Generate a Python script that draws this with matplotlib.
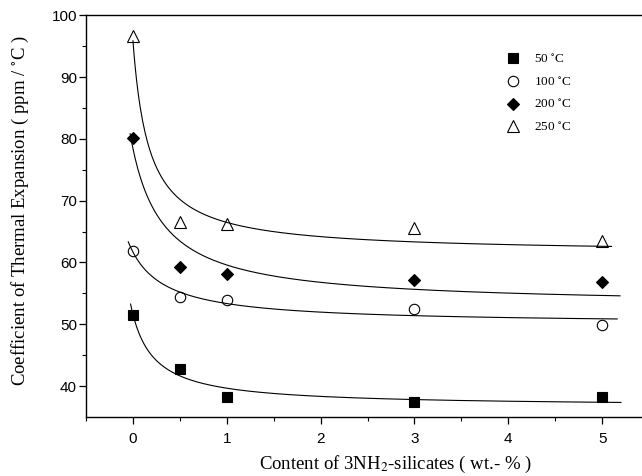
import matplotlib
matplotlib.use('Agg')
import matplotlib.pyplot as plt
import numpy as np

plt.rcParams['mathtext.fontset'] = 'stix'

content = [0, 0.5, 1, 3, 5]
cte_50 = [51.5, 42.8, 38.2, 37.4, 38.2]
cte_100 = [61.8, 54.4, 54.0, 52.4, 49.9]
cte_200 = [80.2, 59.3, 58.2, 57.2, 56.9]
cte_250 = [96.7, 66.5, 66.2, 65.6, 63.5]

labels = ['50 $^{\\circ}$C', '100 $^{\\circ}$C', '200 $^{\\circ}$C', '250 $^{\\circ}$C']

# shape constant of the hyperbolic fit y = a + b / (x + c), and drawn range
fit_c = [0.25, 0.40, 0.35, 0.17]
fit_start = [-0.025, -0.05, -0.03, 0.0]
fit_end = [5.2, 5.16, 5.19, 5.1]


def hyperbolic_fit(x, y, c):
    x = np.asarray(x, float)
    y = np.asarray(y, float)
    A = np.column_stack([np.ones_like(x), 1.0 / (x + c)])
    (a, b), _, _, _ = np.linalg.lstsq(A, y, rcond=None)
    return lambda t: a + b / (t + c)


fig = plt.figure(figsize=(6.42, 4.76), dpi=100)
ax = fig.add_axes([0.134, 0.124, 0.877, 0.844])

series = [cte_50, cte_100, cte_200, cte_250]
styles = [dict(marker='s', mfc='black', mec='black', markersize=7),
          dict(marker='o', mfc='white', mec='black', markersize=7.5),
          dict(marker='D', mfc='black', mec='black', markersize=6),
          dict(marker='^', mfc='white', mec='black', markersize=8)]

for vals, lab, st, c, x0, x1 in zip(series, labels, styles, fit_c, fit_start, fit_end):
    ax.plot(content, vals, linestyle='none', label=lab, mew=0.8, **st)
    f = hyperbolic_fit(content, vals, c)
    xx = np.linspace(x0, x1, 400)
    ax.plot(xx, f(xx), color='black', lw=0.8)

ax.set_xlim(-0.5, 5.5)
ax.set_ylim(35, 100)
ax.set_xticks([0, 1, 2, 3, 4, 5])
ax.set_xticks(np.arange(-0.5, 5.6, 0.5), minor=True)
ax.set_yticks([40, 50, 60, 70, 80, 90, 100])
ax.set_yticks(np.arange(45, 100, 10), minor=True)
ax.spines['right'].set_visible(False)
for s in ['left', 'bottom', 'top']:
    ax.spines[s].set_linewidth(1.0)
ax.tick_params(which='major', direction='out', length=5, width=0.9,
               labelsize=11, top=False, right=False)
ax.tick_params(axis='y', which='major', pad=1.5)
ax.tick_params(axis='x', which='major', pad=6)
ax.tick_params(which='minor', direction='out', length=3, width=0.8,
               top=False, right=False)
for lbl in ax.get_xticklabels() + ax.get_yticklabels():
    lbl.set_family('Liberation Sans')

ax.set_xlabel('Content of 3NH$_2$-silicates ( wt.- % )', family='Liberation Serif',
              fontsize=13.5, va='center')
ax.xaxis.set_label_coords(0.549, -0.117)
ax.set_ylabel('Coefficient of Thermal Expansion ( ppm / $^{\\circ}$C )',
              family='Liberation Serif', fontsize=13.5, va='center')
ax.yaxis.set_label_coords(-0.117, 0.513)

leg = ax.legend(loc='upper left', bbox_to_anchor=(0.725, 0.935), frameon=False,
                prop={'family': 'Liberation Serif', 'size': 9.5},
                handletextpad=1.1, labelspacing=0.75, handlelength=1.0)

fig.savefig('out.png', dpi=100)
